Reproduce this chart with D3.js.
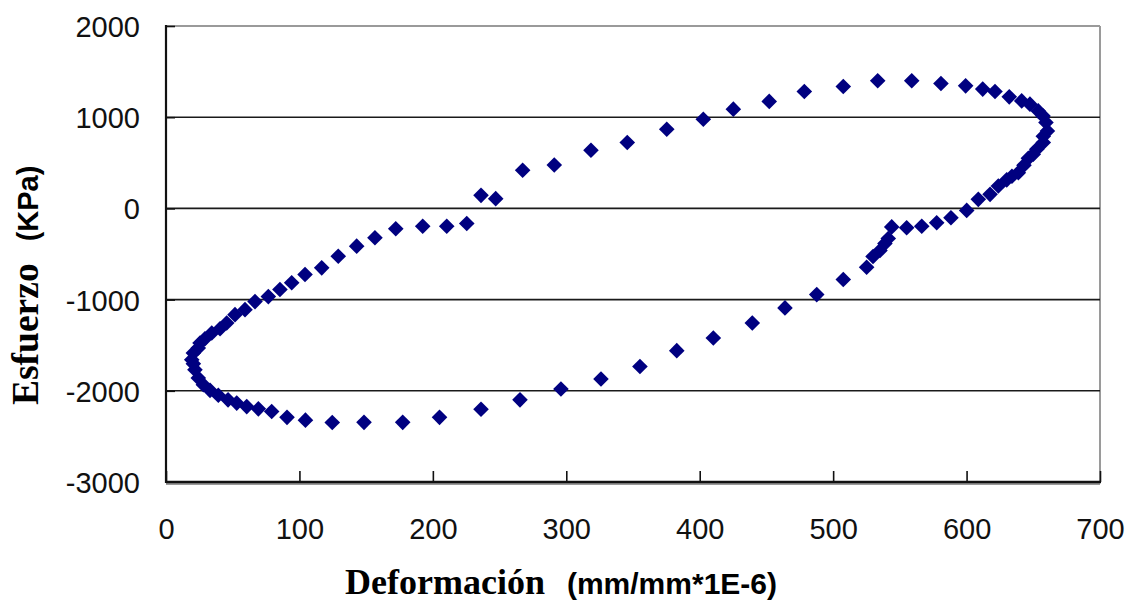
<!DOCTYPE html>
<html>
<head>
<meta charset="utf-8">
<script src="https://cdn.jsdelivr.net/npm/d3@7"></script>
<style>
  html, body { margin: 0; padding: 0; background: #fff; }
  svg { display: block; }
</style>
</head>
<body>
<svg id="chart" width="1132" height="603"></svg>
<script>
// Hysteresis loop: strain (mm/mm*1E-6) vs. stress (KPa), in loop order
const strain = [
  19.3, 20.5, 24.2, 25.5, 29.2, 34.3, 40.5, 45.5, 51.7, 59.2,
  66.7, 76.7, 85.4, 94.2, 104.2, 116.7, 129.1, 142.9, 156.6, 172.2,
  192.4, 210.4, 225.4, 236.1, 247.1, 267.3, 291.0, 318.5, 345.7, 375.3,
  402.7, 425.2, 452.1, 478.4, 507.6, 533.4, 558.9, 580.8, 599.3, 612.1,
  621.3, 632.0, 641.3, 647.5, 653.7, 657.3, 659.5, 660.6, 657.5, 657.5,
  652.6, 650.0, 646.3, 643.0, 638.8, 634.0, 630.1, 623.8, 617.6, 608.8,
  600.1, 588.3, 577.6, 566.4, 555.1, 543.9, 541.3, 538.8, 535.1, 529.9,
  525.1, 507.6, 487.7, 463.9, 439.4, 410.2, 382.8, 355.2, 326.0, 296.0,
  265.3, 236.1, 205.0, 177.4, 148.4, 124.6, 104.5, 90.7, 79.2, 69.2,
  60.5, 53.0, 46.5, 39.2, 33.0, 28.0, 24.2, 21.7, 20.5
];
const stress = [
  -1659, -1586, -1531, -1476, -1429, -1366, -1319, -1256, -1165, -1110,
  -1022, -967, -890, -816, -725, -652, -524, -414, -322, -223,
  -195, -195, -165, 143, 107, 418, 476, 637, 722, 868,
  978, 1088, 1173, 1282, 1337, 1399, 1399, 1370, 1344, 1308,
  1282, 1223, 1179, 1143, 1069, 1014, 942, 849, 791, 722,
  648, 593, 549, 473, 392, 352, 313, 245, 154, 99,
  -22, -102, -157, -195, -212, -203, -330, -385, -462, -527,
  -645, -780, -945, -1091, -1256, -1421, -1560, -1733, -1871, -1981,
  -2099, -2203, -2291, -2346, -2346, -2348, -2322, -2291, -2227, -2198,
  -2173, -2135, -2099, -2049, -1995, -1934, -1860, -1769, -1703
];

const xTicks = [0, 100, 200, 300, 400, 500, 600, 700];
const yTicks = [-3000, -2000, -1000, 0, 1000, 2000];
const gridValues = [-2000, -1000, 0, 1000];

const xTitle = "Deformación";
const xUnits = "(mm/mm*1E-6)";
const yTitle = "Esfuerzo";
const yUnits = "(KPa)";

const points = strain.map((s, i) => ({ x: s, y: stress[i] }));

const svg = d3.select("#chart");
const plotLeft = 166, plotRight = 1100, plotTop = 26, plotBottom = 482;

const x = d3.scaleLinear().domain([0, 700]).range([plotLeft, plotRight]);
const y = d3.scaleLinear().domain([-3000, 2000]).range([plotBottom, plotTop]);

// plain hyphen-minus in tick labels
const fmt = d => String(d);

// plot frame: light grey on top and right
svg.append("line")
  .attr("x1", plotLeft).attr("x2", plotRight).attr("y1", plotTop).attr("y2", plotTop)
  .attr("stroke", "#9a9a9a").attr("stroke-width", 2);
svg.append("line")
  .attr("x1", plotRight).attr("x2", plotRight).attr("y1", plotTop).attr("y2", plotBottom)
  .attr("stroke", "#9a9a9a").attr("stroke-width", 2);

// horizontal gridlines
svg.append("g")
  .selectAll("line")
  .data(gridValues)
  .join("line")
  .attr("x1", plotLeft).attr("x2", plotRight)
  .attr("y1", d => y(d)).attr("y2", d => y(d))
  .attr("stroke", "#1a1a1a").attr("stroke-width", 1.6);

// x axis: ticks point up into the plot, labels below
const xAxis = d3.axisBottom(x).tickValues(xTicks).tickSize(0).tickPadding(0).tickFormat(fmt);
const gx = svg.append("g").attr("transform", `translate(0,${plotBottom})`).call(xAxis);
gx.select(".domain").remove();
gx.selectAll(".tick text")
  .attr("y", 36)
  .attr("font-family", "'Liberation Sans', Arial, sans-serif")
  .attr("font-size", 29)
  .attr("fill", "#111");
gx.selectAll(".tick")
  .append("line")
  .attr("y1", 0).attr("y2", -11)
  .attr("stroke", "#111").attr("stroke-width", 1.6);

// y axis: short inward ticks, labels left
const yAxis = d3.axisLeft(y).tickValues(yTicks).tickSize(0).tickPadding(0).tickFormat(fmt);
const gy = svg.append("g").attr("transform", `translate(${plotLeft},0)`).call(yAxis);
gy.select(".domain").remove();
gy.selectAll(".tick text")
  .attr("x", -26)
  .attr("dy", "0.36em")
  .attr("font-family", "'Liberation Sans', Arial, sans-serif")
  .attr("font-size", 29)
  .attr("fill", "#111");
gy.selectAll(".tick")
  .append("line")
  .attr("x1", 0).attr("x2", 9)
  .attr("stroke", "#111").attr("stroke-width", 1.6);

// axis lines
svg.append("line")
  .attr("x1", plotLeft).attr("x2", plotLeft).attr("y1", plotTop - 1).attr("y2", plotBottom + 1)
  .attr("stroke", "#111").attr("stroke-width", 2.2);
svg.append("line")
  .attr("x1", plotLeft).attr("x2", plotRight).attr("y1", plotBottom + 2).attr("y2", plotBottom + 2)
  .attr("stroke", "#9a9a9a").attr("stroke-width", 2);
svg.append("line")
  .attr("x1", plotLeft).attr("x2", plotRight + 1).attr("y1", plotBottom).attr("y2", plotBottom)
  .attr("stroke", "#111").attr("stroke-width", 2.4);

// diamond markers
const diamond = "M0,-7.8L7.8,0L0,7.8L-7.8,0Z";
svg.append("g")
  .selectAll("path")
  .data(points)
  .join("path")
  .attr("d", diamond)
  .attr("transform", d => `translate(${x(d.x)},${y(d.y)})`)
  .attr("fill", "#000080");

// x axis title
const xt = svg.append("text")
  .attr("x", 345).attr("y", 594)
  .attr("fill", "#000");
xt.append("tspan")
  .attr("font-family", "'Liberation Serif', 'Times New Roman', serif")
  .attr("font-weight", "bold")
  .attr("font-size", 36)
  .text(xTitle);
xt.append("tspan")
  .attr("dx", 22)
  .attr("font-family", "'Liberation Sans', Arial, sans-serif")
  .attr("font-weight", "bold")
  .attr("font-size", 30)
  .text(xUnits);

// y axis title
const yt = svg.append("text")
  .attr("transform", "translate(38,405) rotate(-90)")
  .attr("fill", "#000");
yt.append("tspan")
  .attr("font-family", "'Liberation Serif', 'Times New Roman', serif")
  .attr("font-weight", "bold")
  .attr("font-size", 37.5)
  .text(yTitle);
yt.append("tspan")
  .attr("dx", 22)
  .attr("font-family", "'Liberation Sans', Arial, sans-serif")
  .attr("font-weight", "bold")
  .attr("font-size", 29)
  .text(yUnits);
</script>
</body>
</html>
